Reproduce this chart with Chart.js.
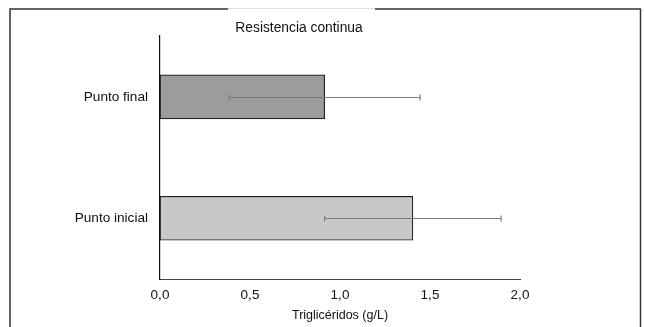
<!DOCTYPE html>
<html>
<head>
<meta charset="utf-8">
<script src="https://cdn.jsdelivr.net/npm/chart.js@4/dist/chart.umd.min.js"></script>
<style>
  html, body { margin: 0; padding: 0; background: #fff; }
  #wrap { width: 645px; height: 327px; position: relative; }
</style>
</head>
<body>
<div id="wrap"><canvas id="myChart"></canvas></div>
<script>
  // datos
  const categorias = ['Punto final', 'Punto inicial'];
  const medias = [0.915, 1.405];
  const desviaciones = [0.53, 0.49];
  const colores = ['#9c9c9c', '#c8c8c8'];
  const ticksX = ['0,0', '0,5', '1,0', '1,5', '2,0'];

  // marco exterior con hueco bajo el título
  const marco = {
    id: 'marco',
    afterLayout(chart) {
      // el título va centrado un poco a la izquierda del lienzo
      const t = chart.titleBlock;
      if (t) { t.left = 78; t.right = 520; t.width = 442; }
    },
    beforeDraw(chart) {
      const ctx = chart.ctx;
      ctx.save();
      ctx.lineWidth = 1.5;
      ctx.strokeStyle = '#333';
      ctx.beginPath();
      ctx.moveTo(10, 340);
      ctx.lineTo(10, 9);
      ctx.lineTo(228, 9);
      ctx.moveTo(375, 9);
      ctx.lineTo(640.5, 9);
      ctx.lineTo(640.5, 340);
      ctx.stroke();
      ctx.strokeStyle = '#ddd';
      ctx.lineWidth = 1;
      ctx.beginPath();
      ctx.moveTo(228, 8.5);
      ctx.lineTo(375, 8.5);
      ctx.stroke();
      ctx.restore();
    }
  };

  // barras de error horizontales
  const barrasError = {
    id: 'barrasError',
    afterDatasetsDraw(chart) {
      const ctx = chart.ctx;
      const x = chart.scales.x;
      const meta = chart.getDatasetMeta(0);
      ctx.save();
      ctx.strokeStyle = '#7a7a7a';
      ctx.lineWidth = 1.2;
      meta.data.forEach((bar, i) => {
        const y = Math.round(bar.y) + 0.5;
        const x1 = x.getPixelForValue(medias[i] - desviaciones[i]);
        const x2 = x.getPixelForValue(medias[i] + desviaciones[i]);
        ctx.beginPath();
        ctx.moveTo(x1, y);
        ctx.lineTo(x2, y);
        ctx.moveTo(x1, y - 3);
        ctx.lineTo(x1, y + 3);
        ctx.moveTo(x2, y - 3);
        ctx.lineTo(x2, y + 3);
        ctx.stroke();
      });
      ctx.restore();
    }
  };

  const data = {
    labels: categorias,
    datasets: [{
      data: medias,
      backgroundColor: colores,
      borderColor: '#222',
      borderWidth: 1.2,
      borderSkipped: false,
      barThickness: 44
    }]
  };

  const config = {
    type: 'bar',
    data: data,
    options: {
      indexAxis: 'y',
      responsive: true,
      maintainAspectRatio: false,
      animation: false,
      layout: { padding: { top: 10, right: 125, bottom: 0, left: 0 } },
      plugins: {
        legend: { display: false },
        tooltip: { enabled: false },
        title: {
          display: true,
          text: 'Resistencia continua',
          color: '#111',
          font: { family: 'Liberation Sans', size: 13.8, weight: 'normal' },
          padding: { top: 9.5, bottom: 0 }
        }
      },
      scales: {
        x: {
          min: 0,
          max: 2,
          grid: { display: false, drawTicks: false },
          border: { display: true, color: '#444', width: 1 },
          ticks: {
            stepSize: 0.5,
            color: '#111',
            padding: 8,
            font: { family: 'Liberation Sans', size: 13.5 },
            callback: (v, i) => ticksX[i]
          },
          title: {
            display: true,
            text: 'Triglicéridos (g/L)',
            color: '#111',
            font: { family: 'Liberation Sans', size: 12.5 },
            padding: { top: 2, bottom: 3.5 }
          },
          afterFit(scale) { scale.height = 48; }
        },
        y: {
          grid: { display: false, drawTicks: false },
          border: { display: true, color: '#111', width: 1.2 },
          ticks: {
            color: '#111',
            padding: 12,
            font: { family: 'Liberation Sans', size: 13.6 }
          },
          afterFit(scale) { scale.width = 160; }
        }
      }
    },
    plugins: [marco, barrasError]
  };

  var myChart = new Chart(document.getElementById('myChart'), config);
</script>
</body>
</html>
